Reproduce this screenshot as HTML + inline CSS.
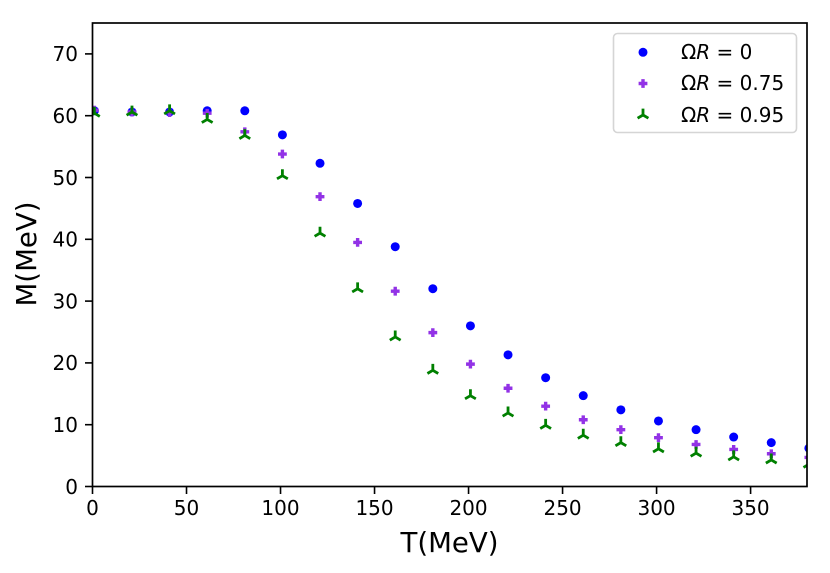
<!DOCTYPE html>
<html>
<head>
<meta charset="utf-8">
<style>
html,body{margin:0;padding:0;background:#fff;width:830px;height:573px;overflow:hidden}
svg{display:block}
text{font-family:"DejaVu Sans","Liberation Sans",sans-serif;fill:#000}
</style>
</head>
<body>
<svg id="chart" width="830" height="573" viewBox="0 0 830 573" xmlns="http://www.w3.org/2000/svg">
<defs><clipPath id="plot-clip"><rect x="92.5" y="23" width="714.5" height="463.5"/></clipPath></defs>
<g id="series" clip-path="url(#plot-clip)"></g>
<rect x="92.5" y="23" width="714.5" height="463.5" fill="none" stroke="#000" stroke-width="1.7"/>
<g id="ticks"></g>
<text x="449.5" y="552" font-size="27.6" text-anchor="middle">T(MeV)</text>
<text transform="translate(36,254) rotate(-90)" font-size="27.6" text-anchor="middle">M(MeV)</text>
<g>
<rect x="613.5" y="33.5" width="183" height="99" rx="4" fill="#fff" fill-opacity="0.8" stroke="#d5d5d5" stroke-width="1.6"/>
<g id="legend-markers"></g>
<text x="681" y="59" font-size="20">Ω<tspan font-style="italic">R</tspan> = 0</text>
<text x="681" y="90" font-size="20">Ω<tspan font-style="italic">R</tspan> = 0.75</text>
<text x="681" y="122" font-size="20">Ω<tspan font-style="italic">R</tspan> = 0.95</text>
</g>
</svg>
<script>
const temperatures = [1,21,41,61,81,101,121,141,161,181,201,221,241,261,281,301,321,341,361,381];
const massOmega0 = [60.8,60.6,60.6,60.8,60.8,56.9,52.3,45.8,38.8,32.0,26.0,21.3,17.6,14.7,12.4,10.6,9.2,8.0,7.1,6.2];
const massOmega075 = [60.9,60.6,60.5,60.4,57.4,53.8,46.9,39.5,31.6,24.9,19.8,15.9,13.0,10.8,9.2,7.9,6.8,6.0,5.3,4.7];
const massOmega095 = [60.4,60.6,60.8,59.4,56.8,50.3,41.0,32.0,24.2,18.8,14.7,11.9,9.9,8.3,7.1,6.1,5.4,4.8,4.3,3.6];
const xTickLabels = [0,50,100,150,200,250,300,350];
const yTickLabels = [0,10,20,30,40,50,60,70];

const NS = 'http://www.w3.org/2000/svg';
function xScale(v){ return 92.5 + v * (714.5 / 380); }
function yScale(v){ return 486.5 - v * (463.5 / 75); }
function make(tag, attrs, parent){
  const el = document.createElementNS(NS, tag);
  for (const k in attrs) el.setAttribute(k, attrs[k]);
  parent.appendChild(el);
  return el;
}
function dot(parent, cx, cy){
  return make('circle', {cx: cx, cy: cy, r: 4.5, fill: '#0000ff'}, parent);
}
function plus(parent, cx, cy){
  const a = 4.4, b = 1.7;
  const d = 'M'+(cx-b)+' '+(cy-a)+'h'+(2*b)+'v'+(a-b)+'h'+(a-b)+'v'+(2*b)+'h'+(b-a)+'v'+(a-b)+'h'+(-2*b)+'v'+(b-a)+'h'+(b-a)+'v'+(-2*b)+'h'+(a-b)+'z';
  return make('path', {d: d, fill: '#9232e6'}, parent);
}
function tri(parent, cx, cy){
  const d = 'M'+cx+' '+cy+'v-6.4M'+cx+' '+cy+'l5.4 3.2M'+cx+' '+cy+'l-5.4 3.2';
  return make('path', {d: d, fill: 'none', stroke: '#008000', 'stroke-width': 2.8}, parent);
}
const seriesLayer = document.getElementById('series');
const ticksLayer = document.getElementById('ticks');
const legendLayer = document.getElementById('legend-markers');

temperatures.forEach(function(t, i){
  const el = dot(seriesLayer, xScale(t), yScale(massOmega0[i]));
  
  
});
temperatures.forEach(function(t, i){
  const el = plus(seriesLayer, xScale(t), yScale(massOmega075[i]));
  
  
});
temperatures.forEach(function(t, i){
  const el = tri(seriesLayer, xScale(t), yScale(massOmega095[i]));
  
  
});

xTickLabels.forEach(function(v){
  const x = xScale(v);
  const line = make('line', {x1: x, x2: x, y1: 486.5, y2: 494, stroke: '#000', 'stroke-width': 1.6}, ticksLayer);
  
  
  const label = make('text', {x: x, y: 515, 'font-size': 20, 'text-anchor': 'middle'}, ticksLayer);
  label.textContent = v;
  
  
});
yTickLabels.forEach(function(v){
  const y = yScale(v);
  const line = make('line', {x1: 85, x2: 92.5, y1: y, y2: y, stroke: '#000', 'stroke-width': 1.6}, ticksLayer);
  
  
  const label = make('text', {x: 78, y: y + 7.3, 'font-size': 20, 'text-anchor': 'end'}, ticksLayer);
  label.textContent = v;
  
  
});

const legendDot = dot(legendLayer, 643, 52.3);


const legendPlus = plus(legendLayer, 643, 83.5);


const legendTri = tri(legendLayer, 643, 115);


</script>
</body>
</html>
